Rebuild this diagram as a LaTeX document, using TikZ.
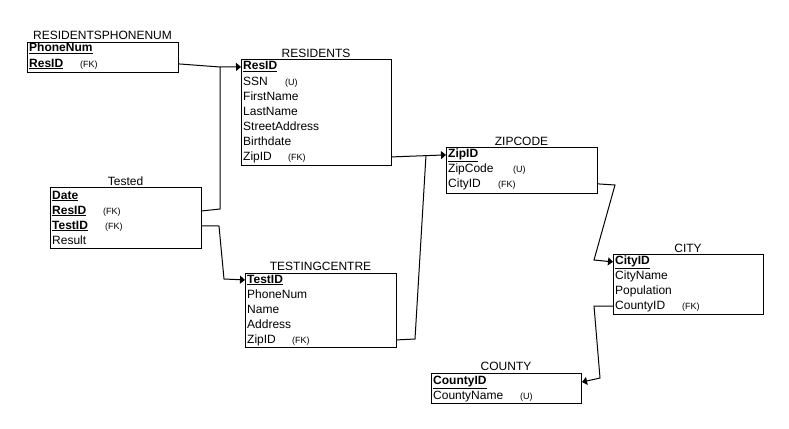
\documentclass[tikz,border=0pt]{standalone}
\usepackage{fontspec}
\setmainfont{Liberation Sans}
\usetikzlibrary{arrows.meta}
\newcommand\pkf[1]{\underline{\textbf{#1}}}
\begin{document}
\begin{tikzpicture}[x=1pt,y=-1pt,
  tbl/.style={draw, line width=1pt, anchor=north west, inner sep=0pt},
  ttl/.style={anchor=base, inner sep=0pt, font=\fontsize{12}{14}\selectfont},
  fld/.style={anchor=base west, inner sep=0pt, font=\fontsize{12}{14}\selectfont},
  tag/.style={anchor=base west, inner sep=0pt, font=\fontsize{9}{10}\selectfont},
  conn/.style={line width=1pt},
  fkarrow/.style={conn, -{Triangle[length=5pt,width=8pt]}}
]
\fill[white] (0,0) rectangle (789,428);
\useasboundingbox (0,0) rectangle (789,428);

% RESIDENTSPHONENUM
\node[tbl, minimum width=151, minimum height=30] (rpn) at (27,42) {};
\node[ttl] (rpnt) at (102.5,40) {RESIDENTSPHONENUM};
\node[fld] (rpn1) at (29,52) {\pkf{PhoneNum}};
\node[fld] (rpn2) at (29,67) {\pkf{ResID}};
\node[tag] (rpn2t) at (80,67) {(FK)};

% RESIDENTS
\node[tbl, minimum width=150, minimum height=106] (res) at (241,59) {};
\node[ttl] (rest) at (316,57) {RESIDENTS};
\node[fld] (res1) at (243,70) {\pkf{ResID}};
\node[fld] (res2) at (243,85) {SSN};
\node[tag] (res2t) at (285,85) {(U)};
\node[fld] (res3) at (243,100) {FirstName};
\node[fld] (res4) at (243,115) {LastName};
\node[fld] (res5) at (243,130) {StreetAddress};
\node[fld] (res6) at (243,145) {Birthdate};
\node[fld] (res7) at (243,160) {ZipID};
\node[tag] (res7t) at (288,160) {(FK)};

% Tested
\node[tbl, minimum width=151, minimum height=61] (tst) at (50,187) {};
\node[ttl] (tstt) at (125.5,185) {Tested};
\node[fld] (tst1) at (52,199) {\pkf{Date}};
\node[fld] (tst2) at (52,214) {\pkf{ResID}};
\node[tag] (tst2t) at (103,214) {(FK)};
\node[fld] (tst3) at (52,229) {\pkf{TestID}};
\node[tag] (tst3t) at (105,229) {(FK)};
\node[fld] (tst4) at (52,244) {Result};

% TESTINGCENTRE
\node[tbl, minimum width=151, minimum height=74] (tc) at (245,273) {};
\node[ttl] (tct) at (320.5,270) {TESTINGCENTRE};
\node[fld] (tc1) at (247,283) {\pkf{TestID}};
\node[fld] (tc2) at (247,298) {PhoneNum};
\node[fld] (tc3) at (247,313) {Name};
\node[fld] (tc4) at (247,328) {Address};
\node[fld] (tc5) at (247,343) {ZipID};
\node[tag] (tc5t) at (292,343) {(FK)};

% ZIPCODE
\node[tbl, minimum width=151, minimum height=46] (zip) at (446,147) {};
\node[ttl] (zipt) at (521.5,145) {ZIPCODE};
\node[fld] (zip1) at (448,157) {\pkf{ZipID}};
\node[fld] (zip2) at (448,172) {ZipCode};
\node[tag] (zip2t) at (513,172) {(U)};
\node[fld] (zip3) at (448,187) {CityID};
\node[tag] (zip3t) at (498,187) {(FK)};

% CITY
\node[tbl, minimum width=150, minimum height=60] (city) at (613,254) {};
\node[ttl] (cityt) at (688,252) {CITY};
\node[fld] (city1) at (615,264) {\pkf{CityID}};
\node[fld] (city2) at (615,279) {CityName};
\node[fld] (city3) at (615,294) {Population};
\node[fld] (city4) at (615,309) {CountyID};
\node[tag] (city4t) at (682,309) {(FK)};

% COUNTY
\node[tbl, minimum width=150, minimum height=30] (cty) at (431,373) {};
\node[ttl] (ctyt) at (506,370) {COUNTY};
\node[fld] (cty1) at (433,384) {\pkf{CountyID}};
\node[fld] (cty2) at (433,399) {CountyName};
\node[tag] (cty2t) at (520,399) {(U)};

% connectors
\coordinate (j1) at (220,67);
\coordinate (j2) at (220,209);
\coordinate (j3) at (219,226);
\coordinate (j4) at (224,279);
\coordinate (j5) at (415,339);
\coordinate (j6) at (426,155);
\coordinate (j7) at (615,185);
\coordinate (j8) at (594,260);
\coordinate (j9) at (594,306);
\coordinate (j10) at (600,378);

\draw[fkarrow] (rpn.east |- rpn2) -- (j1) -- (res.west |- res1);
\draw[conn] (tst.east |- tst2) -- (j2) -- (j1);
\draw[fkarrow] (tst.east |- tst3) -- (j3) -- (j4) -- (tc.west |- tc1);
\draw[fkarrow] (res.east |- res7) -- (zip.west |- zip1);
\draw[conn] (tc.east |- tc5) -- (j5) -- (j6);
\draw[fkarrow] (zip.east |- zip3) -- (j7) -- (j8) -- (city.west |- city1);
\draw[fkarrow] (city.west |- city4) -- (j9) -- (j10) -- (cty.east |- cty1);
\end{tikzpicture}
\end{document}
